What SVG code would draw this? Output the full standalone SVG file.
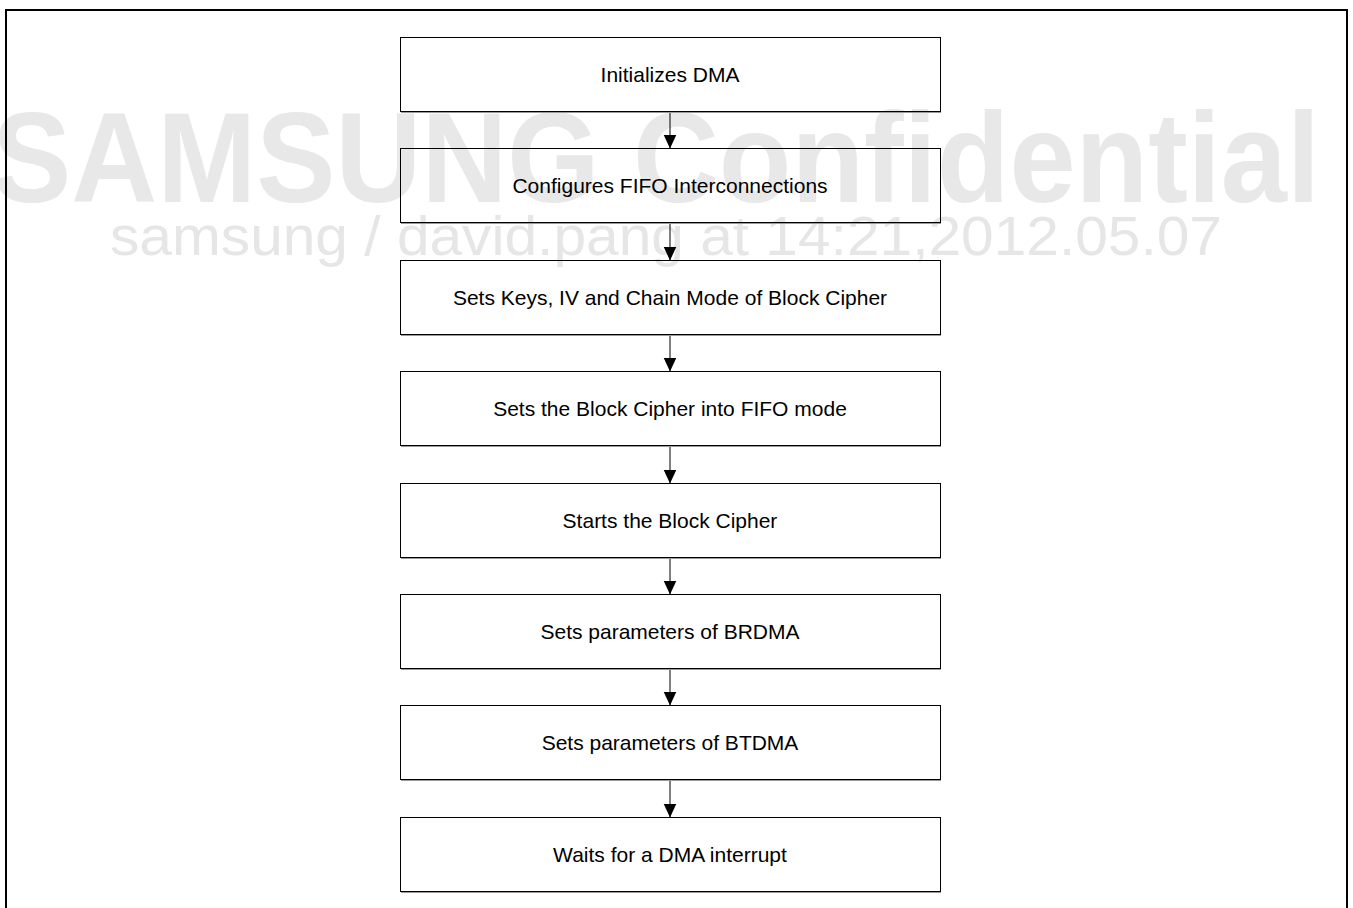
<svg xmlns="http://www.w3.org/2000/svg" width="1353" height="908" viewBox="0 0 1353 908">
<style>
.wm1{font-family:"Liberation Sans",Arial,sans-serif;font-weight:bold;font-size:128px;fill:#e8e8e8}
.wm2{font-family:"Liberation Sans",Arial,sans-serif;font-size:55px;fill:#e6e6e6}
.box{fill:none;stroke:#000;stroke-width:1}
.sh{stroke:#9a9a9a;stroke-width:1}
.lbl{font-family:"Liberation Sans",Arial,sans-serif;font-size:21px;fill:#000;text-anchor:middle}
.con{stroke:#000;stroke-width:1;fill:none;marker-end:url(#ah)}
</style>
<defs>
<marker id="ah" markerWidth="14" markerHeight="14" refX="14" refY="7" orient="auto" markerUnits="userSpaceOnUse">
<path d="M0,0.5 L14,7 L0,13.5 z" fill="#000"/>
</marker>
</defs>
<rect x="0" y="0" width="1353" height="908" fill="#fff"/>
<g id="watermark">
<text class="wm1" x="-8" y="201.7" textLength="1328" lengthAdjust="spacingAndGlyphs">SAMSUNG Confidential</text>
<text class="wm2" x="110" y="255" textLength="1112" lengthAdjust="spacingAndGlyphs">samsung / david.pang at 14:21,2012.05.07</text>
</g>
<path d="M6,912 V10 H1347 V912" fill="none" stroke="#000" stroke-width="2"/>
<g id="connectors">
<line class="con" x1="670" y1="111.5" x2="670" y2="148.5"/>
<line class="con" x1="670" y1="222.5" x2="670" y2="260.5"/>
<line class="con" x1="670" y1="334.5" x2="670" y2="371.5"/>
<line class="con" x1="670" y1="445.5" x2="670" y2="483.5"/>
<line class="con" x1="670" y1="557.5" x2="670" y2="594.5"/>
<line class="con" x1="670" y1="668.5" x2="670" y2="705.5"/>
<line class="con" x1="670" y1="779.5" x2="670" y2="817.5"/>
</g>
<g id="n1"><rect class="box" x="400.5" y="37.5" width="540" height="74"/><line class="sh" x1="401" y1="112.5" x2="941" y2="112.5"/><text class="lbl" x="670" y="82">Initializes DMA</text></g>
<g id="n2"><rect class="box" x="400.5" y="148.5" width="540" height="74"/><line class="sh" x1="401" y1="223.5" x2="941" y2="223.5"/><text class="lbl" x="670" y="193">Configures FIFO Interconnections</text></g>
<g id="n3"><rect class="box" x="400.5" y="260.5" width="540" height="74"/><line class="sh" x1="401" y1="335.5" x2="941" y2="335.5"/><text class="lbl" x="670" y="305">Sets Keys, IV and Chain Mode of Block Cipher</text></g>
<g id="n4"><rect class="box" x="400.5" y="371.5" width="540" height="74"/><line class="sh" x1="401" y1="446.5" x2="941" y2="446.5"/><text class="lbl" x="670" y="416">Sets the Block Cipher into FIFO mode</text></g>
<g id="n5"><rect class="box" x="400.5" y="483.5" width="540" height="74"/><line class="sh" x1="401" y1="558.5" x2="941" y2="558.5"/><text class="lbl" x="670" y="528">Starts the Block Cipher</text></g>
<g id="n6"><rect class="box" x="400.5" y="594.5" width="540" height="74"/><line class="sh" x1="401" y1="669.5" x2="941" y2="669.5"/><text class="lbl" x="670" y="639">Sets parameters of BRDMA</text></g>
<g id="n7"><rect class="box" x="400.5" y="705.5" width="540" height="74"/><line class="sh" x1="401" y1="780.5" x2="941" y2="780.5"/><text class="lbl" x="670" y="750">Sets parameters of BTDMA</text></g>
<g id="n8"><rect class="box" x="400.5" y="817.5" width="540" height="74"/><line class="sh" x1="401" y1="892.5" x2="941" y2="892.5"/><text class="lbl" x="670" y="862">Waits for a DMA interrupt</text></g>
</svg>
